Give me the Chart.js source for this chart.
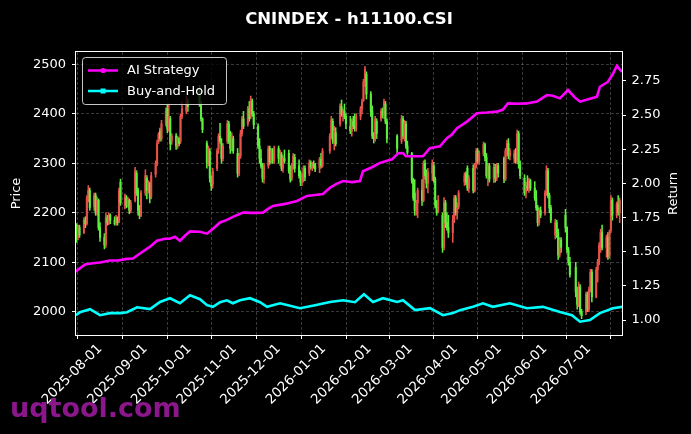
<!DOCTYPE html>
<html>
<head>
<meta charset="utf-8">
<script src="https://cdn.jsdelivr.net/npm/chart.js@4/dist/chart.umd.min.js"></script>
<style>
html,body{margin:0;padding:0;background:#000;}
canvas{display:block;}
</style>
</head>
<body>
<canvas id="c" width="691" height="434"></canvas>
<script>
// ---------- DATA ----------
const titleText = 'CNINDEX - h11100.CSI';
const baseDate = '2025-08-01';            // day 0 of the x axis
const firstTradeDate = '2025-07-16';
const lastTradeDate = '2026-07-22';
const holidays = ['2025-10-01','2025-10-02','2025-10-03','2025-10-06','2025-10-07',
  '2026-01-01','2026-01-02','2026-02-16','2026-02-17','2026-02-18','2026-02-19',
  '2026-04-06','2026-05-01','2026-06-19'];
const tickLabels = ['2025-08-01','2025-09-01','2025-10-01','2025-11-01','2025-12-01','2026-01-01',
  '2026-02-01','2026-03-01','2026-04-01','2026-05-01','2026-06-01','2026-07-01'];
const priceTicks = [2000,2100,2200,2300,2400,2500];
const returnTicks = [1.00,1.25,1.50,1.75,2.00,2.25,2.50,2.75];

const open = [
 2175,2150,2170,2160,2185,2178,2230,2245,2212,2235,2200,2225,
 2170,2150,2135,2190,2180,2195,2185,2178,2190,2182,2262,2212,2230,2215,2225,2205,2225,2280,2245,2210,2195,
 2240,2270,2245,2260,2232,2278,2300,2345,2365,2350,2380,2410,2370,2390,2345,2355,2335,2350,2345,2395,2405,2425,
 2445,2420,2390,2340,2300,2325,2268,2258,2290,2330,2355,2340,2310,2345,2380,2345,2330,2350,
 2320,2280,2315,2360,2390,2380,2410,2395,2425,2400,2375,2335,2310,2295,2268,2295,2330,2305,2325,2305,
 2330,2310,2318,2290,2310,2320,2285,2270,2295,2312,2295,2275,2262,2275,2290,2280,2300,2292,2298,2295,2290,2308,2295,
 2325,2355,2385,2345,2362,2380,2415,2400,2405,2395,2375,2365,2385,2375,2370,2395,2410,2428,2465,2480,
 2440,2405,2355,2350,2385,2390,2405,2398,2420,2385,2355,2345,2390,2355,2380,2335,
 2320,2265,2240,2205,2220,2245,2225,2300,2275,2260,2280,2295,2268,2215,2205,2195,2130,2220,2180,2170,2160,2185,
 2230,2200,2212,2262,2278,2290,2250,2290,2245,2295,2325,2305,2320,2338,2312,2275,2295,2268,2292,2270,2295,
 2310,2268,2325,2340,2315,2310,2320,2305,2360,2298,2270,2240,2255,2250,2265,2250,2230,2210,2180,2205,
 2200,2240,2285,2235,2210,2155,2180,2160,2115,2145,2195,2170,2125,2100,2090,2040,2015,2050,2000,2000,2035,
 2005,2045,2080,2030,2085,2100,2135,2160,2130,2150,2112,2165,2225,2195,2218,2200
];
const high = [
 2178,2175,2175,2190,2192,2235,2255,2250,2240,2240,2232,2228,
 2180,2158,2200,2195,2200,2198,2192,2195,2192,2250,2268,2238,2235,2232,2228,2225,2292,2285,2250,2215,2245,
 2287,2275,2265,2262,2282,2305,2347,2362,2371,2387,2412,2418,2420,2395,2360,2360,2355,2352,2400,2425,2436,2430,
 2458,2425,2392,2345,2335,2330,2275,2290,2330,2360,2381,2350,2340,2387,2385,2365,2362,2355,
 2330,2320,2367,2395,2405,2415,2425,2436,2430,2405,2380,2350,2328,2300,2300,2335,2335,2330,2330,2335,
 2335,2327,2322,2315,2327,2327,2295,2300,2320,2318,2307,2285,2280,2295,2295,2307,2305,2302,2305,2300,2312,2320,2330,
 2360,2395,2390,2375,2372,2420,2428,2410,2420,2400,2395,2390,2395,2400,2400,2415,2430,2470,2496,2485,
 2445,2416,2362,2395,2390,2410,2412,2430,2425,2390,2358,2397,2395,2387,2385,2345,
 2322,2270,2267,2225,2250,2267,2305,2307,2287,2290,2307,2302,2272,2225,2235,2200,2231,2225,2200,2195,2195,2235,
 2235,2220,2245,2281,2283,2295,2275,2297,2300,2330,2330,2325,2343,2341,2320,2300,2300,2300,2298,2300,2300,
 2313,2330,2347,2350,2330,2327,2330,2367,2365,2305,2277,2262,2275,2270,2268,2263,2245,2215,2210,2212,
 2245,2295,2290,2240,2215,2187,2185,2167,2150,2150,2207,2172,2130,2110,2100,2050,2060,2055,2005,2040,2040,
 2050,2086,2085,2090,2106,2140,2167,2175,2155,2160,2165,2235,2230,2222,2235,2230
];
const low = [
 2140,2145,2150,2158,2170,2175,2222,2205,2205,2195,2195,2165,
 2142,2127,2130,2175,2176,2178,2175,2175,2175,2180,2215,2208,2210,2212,2198,2200,2222,2235,2195,2188,2192,
 2235,2228,2240,2220,2228,2272,2295,2340,2345,2345,2375,2362,2365,2327,2338,2328,2330,2335,2340,2390,2400,2405,
 2415,2385,2362,2290,2295,2262,2245,2250,2285,2320,2340,2300,2305,2340,2340,2320,2325,2320,
 2272,2275,2310,2355,2370,2375,2385,2390,2395,2370,2330,2300,2290,2262,2260,2290,2298,2300,2300,2300,
 2300,2295,2285,2282,2300,2280,2262,2265,2288,2282,2270,2255,2255,2262,2265,2275,2288,2285,2290,2283,2281,2290,2292,
 2320,2350,2340,2327,2335,2375,2395,2385,2390,2370,2360,2355,2370,2365,2365,2388,2400,2425,2455,2430,
 2395,2350,2341,2345,2350,2385,2392,2390,2380,2341,2321,2340,2350,2345,2330,2318,
 2260,2225,2195,2195,2190,2215,2222,2268,2250,2240,2265,2262,2210,2195,2200,2120,2125,2170,2165,2150,2140,2180,
 2195,2187,2208,2255,2257,2245,2241,2240,2242,2290,2300,2298,2315,2305,2270,2255,2262,2261,2262,2265,2272,
 2261,2265,2315,2309,2307,2301,2300,2300,2290,2269,2235,2230,2245,2241,2245,2225,2205,2173,2175,2190,
 2195,2235,2230,2200,2180,2147,2150,2106,2110,2120,2161,2120,2094,2070,2030,2005,2010,1995,1986,1994,2000,
 2000,2040,2020,2028,2060,2095,2120,2125,2110,2106,2108,2160,2185,2190,2195,2180
];
const close = [
 2150,2170,2155,2185,2178,2230,2245,2210,2235,2200,2225,2170,
 2150,2135,2190,2180,2195,2185,2178,2190,2180,2245,2220,2232,2215,2228,2205,2220,2285,2240,2205,2195,2240,
 2275,2245,2262,2230,2275,2300,2340,2358,2350,2380,2405,2370,2395,2340,2355,2335,2350,2340,2395,2410,2425,2415,
 2420,2390,2368,2300,2330,2270,2255,2285,2325,2355,2345,2310,2335,2380,2345,2330,2355,2325,
 2280,2315,2360,2390,2375,2410,2390,2430,2400,2378,2335,2310,2295,2270,2295,2330,2302,2325,2305,2330,
 2310,2320,2290,2310,2305,2285,2268,2295,2315,2290,2275,2262,2275,2290,2272,2300,2292,2298,2295,2288,2308,2295,2325,
 2355,2388,2345,2365,2340,2415,2400,2405,2395,2380,2365,2385,2375,2372,2395,2410,2425,2465,2490,2440,
 2405,2355,2350,2390,2360,2405,2398,2425,2385,2350,2330,2390,2355,2380,2335,2322,
 2265,2230,2205,2220,2245,2225,2300,2275,2260,2282,2300,2268,2215,2200,2225,2130,2220,2180,2170,2160,2185,2230,
 2200,2210,2240,2275,2262,2250,2270,2245,2295,2325,2305,2320,2338,2312,2275,2295,2268,2292,2270,2295,2280,
 2268,2325,2340,2315,2325,2320,2305,2360,2298,2275,2240,2255,2250,2265,2250,2230,2210,2180,2205,2195,
 2240,2285,2235,2210,2185,2180,2160,2115,2145,2130,2170,2125,2100,2075,2040,2015,2050,2000,1992,2035,2005,
 2045,2080,2030,2085,2100,2135,2160,2130,2150,2112,2160,2225,2195,2218,2200,2225
];

// AI Strategy cumulative return (day offset from 2025-08-01, value)
const aiDay = [-16.4,-15.7,-10.2,-4.8,0,6.8,12.3,18.4,22.5,27.3,34.2,38.9,44.4,47.8,51.2,54.6,58,61.5,68.3,73.1,
  77.2,82,86.7,90.8,97.7,104.5,111.3,114.8,118.2,126.4,134.6,141.4,146.9,152.3,157.1,161.2,166,172.1,177.6,179.6,
  185.8,191.3,199.5,203.6,207,209,213.1,220.6,225.4,232.2,237,240.4,243.9,250.7,257.5,264.3,271.2,275.3,278.7,285.5,
  291.7,298.5,305.3,309.4,314.2,319.7,324.5,327.9,334.7,339.5,341.5,347,350.4,353.1,356.6];
const aiReturn = [1.351,1.363,1.407,1.416,1.421,1.436,1.436,1.448,1.450,1.487,1.537,1.581,1.595,1.595,1.610,1.581,1.617,1.649,1.646,1.632,
  1.668,1.714,1.733,1.755,1.786,1.784,1.786,1.813,1.835,1.850,1.871,1.908,1.915,1.922,1.968,1.995,2.017,2.009,2.017,2.089,
  2.118,2.150,2.176,2.220,2.222,2.198,2.198,2.198,2.258,2.271,2.331,2.358,2.404,2.452,2.513,2.518,2.525,2.540,2.585,2.583,
  2.585,2.598,2.646,2.641,2.622,2.683,2.627,2.598,2.619,2.634,2.707,2.743,2.801,2.859,2.815];
// Buy-and-Hold cumulative return
const bhDay = [-16.4,-13.7,-6.8,0,6.8,13.7,18.4,25.3,34.2,41,47.8,54.6,61.5,68.3,73.1,77.2,82,86.7,90.8,95.6,
  102.5,109.3,114.1,123,136.6,146.9,157.1,166,174.2,180.3,186.5,193.3,202.9,207,215.2,225.4,234.3,241.1,245.9,254.8,
  261.6,268.4,280,291.7,302.6,314.2,322.4,327.9,334.7,341.5,350.4,356.6];
const bhReturn = [1.036,1.058,1.080,1.036,1.051,1.051,1.058,1.094,1.080,1.133,1.160,1.123,1.182,1.153,1.109,1.097,1.131,1.145,1.123,1.145,
  1.160,1.131,1.097,1.123,1.087,1.109,1.133,1.145,1.131,1.189,1.133,1.160,1.133,1.145,1.073,1.087,1.036,1.051,1.073,1.097,
  1.123,1.097,1.123,1.087,1.097,1.060,1.036,0.988,1.000,1.051,1.087,1.097];

// ---------- HELPERS ----------
const DAY = 86400000;
const utc = s => { const [y,m,d] = s.split('-').map(Number); return Date.UTC(y,m-1,d); };
const toDay = s => (utc(s) - utc(baseDate)) / DAY;
const holidaySet = new Set(holidays);
const tradeDays = [];
for (let t = utc(firstTradeDate); t <= utc(lastTradeDate); t += DAY) {
  const dt = new Date(t); const wd = dt.getUTCDay();
  const s = dt.toISOString().slice(0,10);
  if (wd === 0 || wd === 6 || holidaySet.has(s)) continue;
  tradeDays.push(toDay(s));
}
if (tradeDays.length !== close.length) console.error('length mismatch', tradeDays.length, close.length);
const tickDays = tickLabels.map(toDay);

const UP = '#e8524a', DOWN = '#5cf03c';
const colors = close.map((c,i) => c >= open[i] ? UP : DOWN);
const n = Math.min(tradeDays.length, close.length);
const wickData = [], bodyData = [];
for (let i = 0; i < n; i++) {
  wickData.push({x: tradeDays[i], y: [low[i], high[i]]});
  bodyData.push({x: tradeDays[i], y: [open[i], close[i]]});
}

const FONT = 'DejaVu Sans';
Chart.defaults.font.family = FONT;
Chart.defaults.font.size = 13;
Chart.defaults.color = '#fff';

const GRID = { color: 'rgba(150,150,150,0.55)', lineWidth: 0.7, tickColor: '#fff', tickLength: 4, tickWidth: 1 };

const deco = {
  id: 'deco',
  beforeDraw(chart) {
    const c = chart.ctx; c.save(); c.fillStyle = '#000'; c.fillRect(0,0,chart.width,chart.height); c.restore();
  },
  afterDraw(chart) {
    const c = chart.ctx, a = chart.chartArea;
    c.save();
    // frame
    c.strokeStyle = '#fff'; c.lineWidth = 1;
    c.strokeRect(Math.round(a.left)-0.5, Math.round(a.top)-0.5, Math.round(a.right-a.left)+1, Math.round(a.bottom-a.top)+1);
    // title
    c.fillStyle = '#fff'; c.textAlign = 'center'; c.textBaseline = 'alphabetic';
    c.font = 'bold 16.5px "' + FONT + '"';
    c.fillText(titleText, (a.left + a.right)/2, 24);
    // axis titles
    c.font = '13px "' + FONT + '"'; c.textBaseline = 'middle';
    c.save(); c.translate(17, (a.top+a.bottom)/2); c.rotate(-Math.PI/2); c.fillText('Price', 0, 0); c.restore();
    c.save(); c.translate(674, (a.top+a.bottom)/2); c.rotate(-Math.PI/2); c.fillText('Return', 0, 0); c.restore();
    // legend
    const lx = 82.5, ly = 57.5, lw = 144, lh = 47;
    c.beginPath(); c.roundRect(lx, ly, lw, lh, 3);
    c.fillStyle = 'rgba(0,0,0,0.8)'; c.fill();
    c.strokeStyle = 'rgba(220,220,220,0.9)'; c.lineWidth = 1; c.stroke();
    const rows = [{label:'AI Strategy', color:'#ff00ff', y:70.5, marker:'circle'},
                  {label:'Buy-and-Hold', color:'#00ffff', y:91, marker:'square'}];
    rows.forEach(r => {
      c.strokeStyle = r.color; c.lineWidth = 2.5; c.beginPath(); c.moveTo(88, r.y); c.lineTo(118, r.y); c.stroke();
      c.fillStyle = r.color;
      if (r.marker === 'circle') { c.beginPath(); c.arc(103, r.y, 2.6, 0, Math.PI*2); c.fill(); }
      else c.fillRect(100.5, r.y-2.5, 5, 5);
      c.fillStyle = '#fff'; c.textAlign = 'left'; c.textBaseline = 'middle';
      c.font = '13px "' + FONT + '"';
      c.fillText(r.label, 127, r.y + 0.5);
    });
    // watermark
    c.font = 'bold 27px "' + FONT + '"'; c.fillStyle = '#8c168c'; c.textAlign = 'left'; c.textBaseline = 'alphabetic';
    c.fillText('uqtool.com', 10, 417);
    c.restore();
  }
};

new Chart(document.getElementById('c'), {
  type: 'bar',
  data: {
    datasets: [
      { type: 'line', label: 'AI Strategy', data: aiDay.map((d,i)=>({x:d, y:aiReturn[i]})), yAxisID: 'y2',
        borderColor: '#ff00ff', borderWidth: 2.6, pointRadius: 0, tension: 0, order: 0 },
      { type: 'line', label: 'Buy-and-Hold', data: bhDay.map((d,i)=>({x:d, y:bhReturn[i]})), yAxisID: 'y2',
        borderColor: '#00ffff', borderWidth: 2.6, pointRadius: 0, tension: 0, order: 1 },
      { label: 'body', data: bodyData, yAxisID: 'y', backgroundColor: colors, barThickness: 1.4, grouped: false,
        minBarLength: 1, order: 2 },
      { label: 'wick', data: wickData, yAxisID: 'y', backgroundColor: colors, barThickness: 0.9, grouped: false, order: 3 }
    ]
  },
  options: {
    responsive: false, animation: false, devicePixelRatio: 1,
    layout: { padding: { top: 52, left: 0, right: 0, bottom: 0 } },
    plugins: { legend: { display: false }, tooltip: { enabled: false }, title: { display: false } },
    scales: {
      x: {
        type: 'linear', min: -16.4, max: 356.6, offset: false,
        afterBuildTicks: s => { s.ticks = tickDays.map(v => ({value: v})); },
        afterFit: s => { s.height = 99; },
        ticks: { color: '#fff', autoSkip: false, maxRotation: 45, minRotation: 45, padding: 2,
                 font: { size: 13.5 }, callback: (v, i) => tickLabels[i] },
        grid: GRID,
        border: { display: false, dash: [3, 2] }
      },
      y: {
        position: 'left', min: 1953, max: 2525,
        afterBuildTicks: s => { s.ticks = priceTicks.map(v => ({value: v})); },
        afterFit: s => { s.width = 76; },
        ticks: { color: '#fff', padding: 6, callback: v => String(v) },
        grid: GRID,
        border: { display: false, dash: [3, 2] }
      },
      y2: {
        position: 'right', min: 0.891, max: 2.961,
        afterBuildTicks: s => { s.ticks = returnTicks.map(v => ({value: v})); },
        afterFit: s => { s.width = 69; },
        ticks: { color: '#fff', padding: 5.5, callback: v => Number(v).toFixed(2) },
        grid: { drawOnChartArea: false, tickColor: '#fff', tickLength: 4, tickWidth: 1 },
        border: { display: false }
      }
    }
  },
  plugins: [deco]
});
</script>
</body>
</html>
